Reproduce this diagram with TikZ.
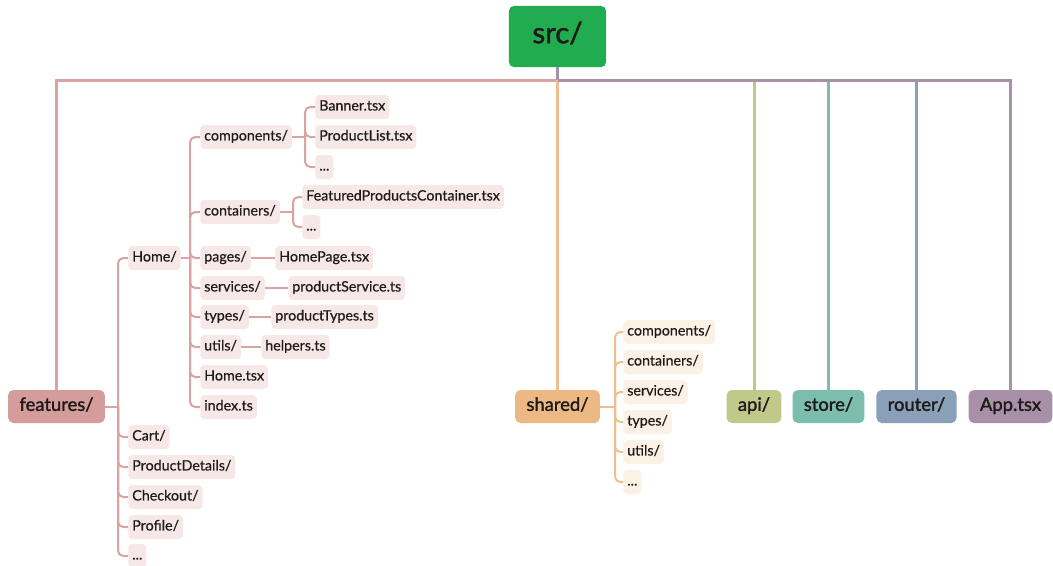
\documentclass[tikz,border=0pt]{standalone}
\usepackage{fontspec}
\setmainfont{Lato}
\newfontfamily\filefont{Lato}[FakeBold=0.5]
\newfontfamily\dirfont{Lato}[FakeBold=1.6]
\usepackage{tikz}
\usetikzlibrary{positioning}
\usepackage{xcolor}

\definecolor{srcgreen}{HTML}{22AC50}
\definecolor{featcol}{HTML}{D49C9B}
\definecolor{featline}{HTML}{D9A3A1}
\definecolor{featlight}{HTML}{F6E8E7}
\definecolor{sharedcol}{HTML}{ECB883}
\definecolor{sharedline}{HTML}{EFC08F}
\definecolor{sharedlight}{HTML}{FCF1E5}
\definecolor{apicol}{HTML}{C0C88A}
\definecolor{storecol}{HTML}{7DBDAB}
\definecolor{routercol}{HTML}{8AA0B8}
\definecolor{appcol}{HTML}{A990A9}
\definecolor{inkcol}{HTML}{1E1A1A}

\tikzset{
  topdir/.style={rounded corners=4pt, minimum height=24.75pt, inner xsep=8.5pt,
    text=inkcol, text height=9.5pt, text depth=3pt, font=\dirfont\fontsize{13.8}{15}\selectfont},
  subdir/.style={rounded corners=3pt, minimum height=18pt, inner xsep=3pt, anchor=west,
    text=inkcol, text height=7.6pt, text depth=2.4pt, font=\filefont\fontsize{10.7}{12}\selectfont},
  featfile/.style={subdir, fill=featlight},
  sharedfile/.style={subdir, fill=sharedlight},
  featbranch/.style={draw=featline, line width=1.5pt, rounded corners=4pt},
  sharedbranch/.style={draw=sharedline, line width=1.5pt, rounded corners=4pt},
  trunk/.style={line width=2.25pt}
}

\begin{document}
\begin{tikzpicture}[x=0.75pt, y=-0.75pt]
\useasboundingbox (0,0) rectangle (1053,565);

% root
\node[topdir, fill=srcgreen, minimum width=73pt, minimum height=46pt,
  text height=14pt, text depth=4pt, font=\dirfont\fontsize{22}{24}\selectfont] (src) at (557.5,36.5) {src/};
\coordinate (hub) at (557.5,80);

% top level
\node[topdir, fill=featcol] (features) at (56.5,406.5) {features/};
\node[topdir, fill=sharedcol] (shared) at (557.5,406.5) {shared/};
\node[topdir, fill=apicol] (api) at (754,406.5) {api/};
\node[topdir, fill=storecol] (store) at (828.5,406.5) {store/};
\node[topdir, fill=routercol] (router) at (916.5,406.5) {router/};
\node[topdir, fill=appcol] (app) at (1010.5,406.5) {App.tsx};

\draw[trunk, featline] (hub) -| (features.north);
\draw[trunk, sharedline] (hub) -- (shared.north);
\draw[trunk, apicol] (hub -| api.north) -- (api.north);
\draw[trunk, storecol] (hub -| store.north) -- (store.north);
\draw[trunk, routercol] (hub -| router.north) -- (router.north);
\draw[trunk, appcol] (hub) -| (app.north);
\draw[trunk, appcol] (src.south) -- (hub);

% features/
\node[featfile] (home) at (128,258) {Home/};
\node[featfile] (cart) at (128,437) {Cart/};
\node[featfile] (details) at (128,467) {ProductDetails/};
\node[featfile] (checkout) at (128,497) {Checkout/};
\node[featfile] (profile) at (128,527) {Profile/};
\node[featfile] (featmore) at (128,556) {...};
\coordinate (featj) at (118,406.5);
\draw[featbranch] (features.east) -- (featj);
\foreach \c in {home,cart,details,checkout,profile,featmore}
  \draw[featbranch] (featj) |- (\c.west);

% Home/
\node[featfile] (components) at (200,137) {components/};
\node[featfile] (containers) at (200,212) {containers/};
\node[featfile] (pages) at (200,258) {pages/};
\node[featfile] (services) at (200,288) {services/};
\node[featfile] (types) at (200,317) {types/};
\node[featfile] (utils) at (200,347) {utils/};
\node[featfile] (hometsx) at (200,377) {Home.tsx};
\node[featfile] (index) at (200,407) {index.ts};
\coordinate (homej) at (190,258);
\draw[featbranch] (home.east) -- (homej);
\foreach \c in {components,containers,pages,services,types,utils,hometsx,index}
  \draw[featbranch] (homej) |- (\c.west);

% components/
\node[featfile] (banner) at (315,107) {Banner.tsx};
\node[featfile] (productlist) at (315,137) {ProductList.tsx};
\node[featfile] (compmore) at (315,167) {...};
\coordinate (compj) at (305,137);
\draw[featbranch] (components.east) -- (compj);
\foreach \c in {banner,productlist,compmore}
  \draw[featbranch] (compj) |- (\c.west);

% containers/
\node[featfile] (featured) at (302,197) {FeaturedProductsContainer.tsx};
\node[featfile] (contmore) at (302,227) {...};
\coordinate (contj) at (293,212);
\draw[featbranch] (containers.east) -- (contj);
\foreach \c in {featured,contmore}
  \draw[featbranch] (contj) |- (\c.west);

% single files
\node[featfile] (homepage) at (275,258) {HomePage.tsx};
\node[featfile] (prodservice) at (288,288) {productService.ts};
\node[featfile] (prodtypes) at (271,317) {productTypes.ts};
\node[featfile] (helpers) at (261,347) {helpers.ts};
\draw[featbranch] (pages) -- (homepage);
\draw[featbranch] (services) -- (prodservice);
\draw[featbranch] (types) -- (prodtypes);
\draw[featbranch] (utils) -- (helpers);

% shared/
\node[sharedfile] (scomponents) at (623,332) {components/};
\node[sharedfile] (scontainers) at (623,362) {containers/};
\node[sharedfile] (sservices) at (623,392) {services/};
\node[sharedfile] (stypes) at (623,422) {types/};
\node[sharedfile] (sutils) at (623,452) {utils/};
\node[sharedfile] (smore) at (623,482) {...};
\coordinate (sharedj) at (615,406.5);
\draw[sharedbranch] (shared.east) -- (sharedj);
\foreach \c in {scomponents,scontainers,sservices,stypes,sutils,smore}
  \draw[sharedbranch] (sharedj) |- (\c.west);
\end{tikzpicture}
\end{document}
